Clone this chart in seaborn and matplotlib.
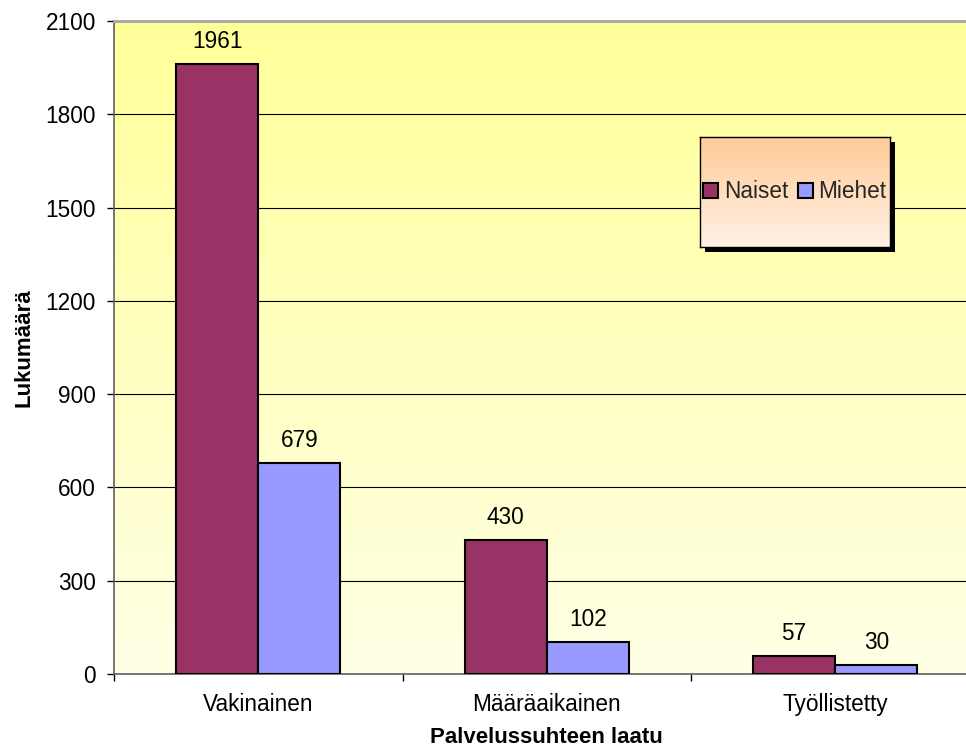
import numpy as np
import pandas as pd
import matplotlib
matplotlib.use("Agg")
import matplotlib.pyplot as plt
from matplotlib.patches import Patch, Rectangle
import seaborn as sns

# Henkilöstö palvelussuhteen laadun ja sukupuolen mukaan
categories = ["Vakinainen", "Määräaikainen", "Työllistetty"]
naiset = [1961, 430, 57]
miehet = [679, 102, 30]
series_names = ["Naiset", "Miehet"]
colors = ["#993366", "#9999FF"]
y_ticks = [0, 300, 600, 900, 1200, 1500, 1800, 2100]

df = pd.DataFrame({
    "laatu": categories * 2,
    "lkm": naiset + miehet,
    "sukupuoli": [series_names[0]] * len(categories) + [series_names[1]] * len(categories),
})

sns.set_theme(style="white")
plt.rcParams["font.family"] = ["Liberation Sans", "DejaVu Sans"]

FS = 16.3
FS_BOLD = 16

W, H = 966, 756
fig = plt.figure(figsize=(W / 100, H / 100), dpi=100)
fig.patch.set_facecolor("white")

# plot area in pixels: left 114, right 979.5 (runs past the edge), top 21, bottom 674
ax = fig.add_axes([114 / W, (H - 674) / H, 865.5 / W, 653 / H])
ax.set_facecolor("none")

# yellow-to-cream vertical gradient behind the bars
grad = np.linspace(0, 1, 256)[:, None]
top = np.array([255, 255, 153]) / 255
bot = np.array([255, 255, 230]) / 255
img = top[None, None, :] * (1 - grad[:, :, None]) + bot[None, None, :] * grad[:, :, None]
ax.imshow(img, extent=[0, 1, 0, 1], transform=ax.transAxes, aspect="auto", zorder=0)

sns.barplot(data=df, x="laatu", y="lkm", hue="sukupuoli", order=categories,
            hue_order=series_names, palette=colors, width=0.57,
            edgecolor="black", linewidth=1.5, saturation=1, ax=ax, zorder=3)
if ax.get_legend() is not None:
    ax.get_legend().remove()

for cont in ax.containers:
    ax.bar_label(cont, fmt="%d", padding=8, fontsize=FS, color="black")

ax.set_xlim(-0.5, len(categories) - 0.5)
ax.set_ylim(0, 2100)
ax.set_yticks(y_ticks)
ax.yaxis.grid(True, color="black", linewidth=0.8, zorder=1)
ax.xaxis.grid(False)

ax.tick_params(axis="y", which="major", left=True, length=5, width=1, color="black",
               direction="out", pad=8, labelsize=FS, labelcolor="black")
ax.set_xticks(range(len(categories)))
ax.set_xticklabels(categories)
ax.set_xticks(np.arange(-0.5, len(categories), 1.0), minor=True)
ax.tick_params(axis="x", which="major", bottom=True, length=0, pad=13.5,
               labelsize=FS, labelcolor="black")
ax.tick_params(axis="x", which="minor", bottom=True, length=5, width=1,
               color="black", direction="out")

for side in ["top", "left", "bottom"]:
    ax.spines[side].set_visible(True)
ax.spines["top"].set_color("#A6A6A6")
ax.spines["top"].set_linewidth(2)
ax.spines["left"].set_color("#606060")
ax.spines["left"].set_linewidth(1.2)
ax.spines["bottom"].set_color("#606060")
ax.spines["bottom"].set_linewidth(1.2)
ax.spines["right"].set_visible(False)

ax.set_xlabel("Palvelussuhteen laatu", fontsize=FS_BOLD, fontweight="bold", color="black", va="top")
ax.xaxis.set_label_coords(0.5, -(727 - 674) / 653)
ax.set_ylabel("Lukumäärä", fontsize=FS_BOLD, fontweight="bold", color="black")
ax.yaxis.set_label_coords(-(114 - 35) / 865.5, 0.5)

# legend box: shadow, peach gradient, border
lx0, lx1, ly0, ly1 = 700, 890, 137, 247
off = 5
shadow = Rectangle(((lx0 + off) / W, (H - ly1 - off) / H), (lx1 - lx0) / W, (ly1 - ly0) / H,
                   transform=fig.transFigure, facecolor="black", edgecolor="none", zorder=2)
fig.add_artist(shadow)
lax = fig.add_axes([lx0 / W, (H - ly1) / H, (lx1 - lx0) / W, (ly1 - ly0) / H], zorder=3)
ltop = np.array([255, 204, 153]) / 255
lbot = np.array([255, 240, 228]) / 255
limg = ltop[None, None, :] * (1 - grad[:, :, None]) + lbot[None, None, :] * grad[:, :, None]
lax.imshow(limg, extent=[0, 1, 0, 1], aspect="auto")
lax.set_xlim(0, 1)
lax.set_ylim(0, 1)
lax.set_xticks([])
lax.set_yticks([])
for s in lax.spines.values():
    s.set_color("black")
    s.set_linewidth(1)

handles = [Patch(facecolor=c, edgecolor="black", linewidth=1.5) for c in colors]
leg = fig.legend(handles, series_names, loc="center",
                 bbox_to_anchor=((lx0 + lx1) / 2 / W, (H - (ly0 + ly1) / 2) / H),
                 ncol=2, frameon=False, fontsize=FS, handlelength=0.65, handleheight=0.65,
                 handletextpad=0.25, columnspacing=0.45, borderpad=0)
leg.set_zorder(5)

fig.savefig("out.png", dpi=100, facecolor="white")
